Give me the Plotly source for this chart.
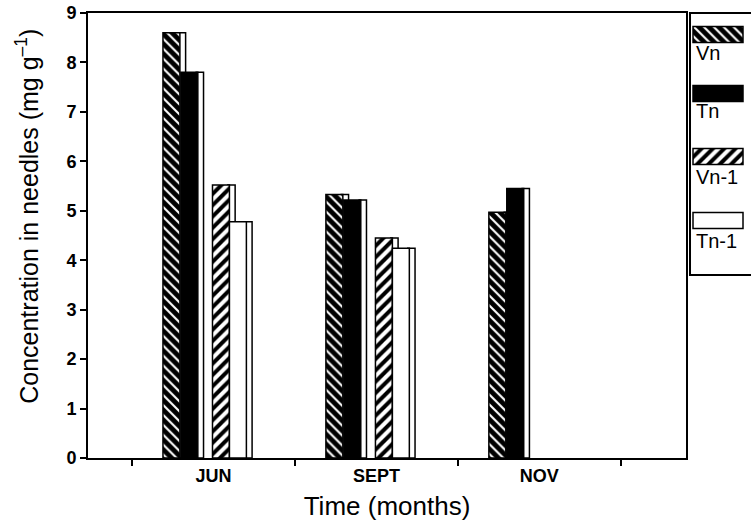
import plotly.graph_objects as go

months = ["JUN", "SEPT", "NOV"]
series_names = ["Vn", "Tn", "Vn-1", "Tn-1"]
vn = [8.6, 5.33, 4.97]
tn = [7.8, 5.22, 5.45]
vn1 = [5.52, 4.45, None]
tn1 = [4.78, 4.24, None]
y_ticks = [0, 1, 2, 3, 4, 5, 6, 7, 8, 9]

values = [vn, tn, vn1, tn1]

# styling per series (front face offset/width in category units)
offsets = [-0.31, -0.20, -0.006, 0.098]
W = 0.104
DEPTH = 0.035
patterns = [
    dict(shape="\\", bgcolor="black", fgcolor="white", size=7, solidity=0.3, fillmode="replace"),
    None,
    dict(shape="/", bgcolor="white", fgcolor="black", size=8, solidity=0.5, fillmode="replace"),
    None,
]
colors = ["black", "black", "white", "white"]

fig = go.Figure()

# side faces (3D depth) drawn first
for name, vals, off in zip(series_names, values, offsets):
    fig.add_trace(go.Bar(
        x=months, y=vals, offset=off + W - 0.01, width=DEPTH + 0.01,
        marker=dict(color="white", line=dict(color="black", width=1.5)),
        showlegend=False, hoverinfo="skip", name=name + " side",
    ))

# front faces
for i, (name, vals, off) in enumerate(zip(series_names, values, offsets)):
    marker = dict(color=colors[i], line=dict(color="black", width=1.5))
    if patterns[i] is not None:
        marker["pattern"] = patterns[i]
    fig.add_trace(go.Bar(
        x=months, y=vals, offset=off, width=W, name=name,
        marker=marker, showlegend=False,
    ))

# legend key drawn in its own small panel (swatch above label, like the original)
key_swatch_y = [21.5, 80.5, 143.5, 207.5]
key_label_y = [40, 98, 164, 228]
for i, name in enumerate(series_names):
    marker = dict(color=colors[i], line=dict(color="black", width=1.5))
    if patterns[i] is not None:
        marker["pattern"] = patterns[i]
    fig.add_trace(go.Bar(
        y=[key_swatch_y[i]], x=[50], base=[3], width=16, orientation="h",
        marker=marker, showlegend=False, hoverinfo="skip",
        xaxis="x2", yaxis="y2", name=name + " key",
    ))
    fig.add_annotation(
        x=4, y=key_label_y[i], xref="x2", yref="y2", text=name,
        showarrow=False, xanchor="left", yanchor="middle",
        font=dict(size=20),
    )

# legend box border (right side runs off the page, as in the original)
fig.add_shape(
    type="rect", xref="paper", yref="paper",
    x0=0.908, x1=1.02, y0=0.411, y1=1.0,
    line=dict(color="black", width=2), fillcolor="rgba(0,0,0,0)", layer="above",
)

# y-axis title (placed as rotated text, slightly above the plot centre as in the original)
fig.add_annotation(
    x=-0.092, y=0.542, xref="paper", yref="paper",
    text="Concentration in needles (mg g<sup>–1</sup>)", textangle=-90,
    showarrow=False, xanchor="center", yanchor="middle", font=dict(size=25),
)

FONT = "Liberation Sans, Arial, Helvetica, sans-serif"

fig.update_layout(
    width=751, height=528,
    margin=dict(l=88, r=0, t=13, b=70),
    barmode="overlay",
    plot_bgcolor="white", paper_bgcolor="white",
    font=dict(family=FONT, color="black"),
    showlegend=False,
    xaxis=dict(
        type="category", domain=[0, 0.902], range=[-0.77, 2.9],
        tickson="boundaries", ticks="outside", ticklen=6, tickwidth=1.5, tickcolor="black",
        showline=True, linecolor="black", linewidth=2, mirror=True,
        showgrid=False, zeroline=False, automargin=False,
        tickfont=dict(size=18, weight="bold"),
        title=dict(text="Time (months)", font=dict(size=26), standoff=12),
    ),
    yaxis=dict(
        range=[0, 9], tickvals=y_ticks, ticks="outside", ticklen=6, tickwidth=1.5,
        tickcolor="black", showline=True, linecolor="black", linewidth=2, mirror=True,
        showgrid=False, zeroline=False, automargin=False, ticklabeloverflow="allow",
        tickfont=dict(size=18, weight="bold"),
    ),
    xaxis2=dict(
        domain=[0.908, 1.0], range=[0, 61], anchor="y2",
        showline=False, showticklabels=False, ticks="", showgrid=False, zeroline=False,
        fixedrange=True, automargin=False,
    ),
    yaxis2=dict(
        domain=[0.411, 1.0], range=[262, 0], anchor="x2",
        showline=False, showticklabels=False, ticks="", showgrid=False, zeroline=False,
        fixedrange=True, automargin=False,
    ),
)

# remove the page's default 8px body margin so the 751x528 figure fills the window
fig.write_html(
    "out.html",
    config={"displayModeBar": False},
    post_script="document.body.style.margin='0';",
)
